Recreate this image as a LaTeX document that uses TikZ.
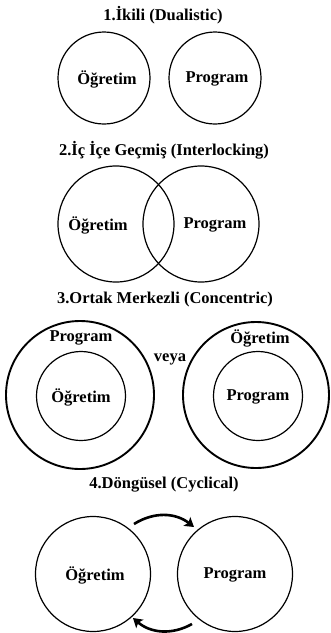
\documentclass[tikz,border=0pt]{standalone}
\usepackage{fontspec}
\setmainfont{Liberation Serif}
\usepackage{tikz}
\usetikzlibrary{arrows.meta}

\begin{document}
\begin{tikzpicture}[x=1pt, y=-1pt,
    lbl/.style={font=\bfseries\fontsize{16.5}{19}\selectfont, inner sep=0pt},
    ttl/.style={font=\bfseries\fontsize{16.5}{19}\selectfont, inner sep=0pt},
    ring/.style={draw, circle, line width=1.2pt, inner sep=0pt},
    thickring/.style={draw, circle, line width=1.9pt, inner sep=0pt},
    cyc/.style={line width=2.6pt, -{Stealth[length=9pt, width=11pt, inset=2pt]}}]
            \useasboundingbox (0,0) rectangle (330,633);

            % Titles
            \node[ttl] (t1) at (163, 15) {1.İkili (Dualistic)};
            \node[ttl] (t2) at (164, 150) {2.İç İçe Geçmiş (Interlocking)};
            \node[ttl] (t3) at (165, 300) {3.Ortak Merkezli (Concentric)};
            \node[ttl] (t4) at (164, 485) {4.Döngüsel (Cyclical)};

            % 1. Dualistic
            \node[ring, minimum size=92pt] (d1) at (104, 78) {};
            \node[ring, minimum size=92pt] (d2) at (215, 78) {};
            \node[lbl] (d1t) at (107, 79) {Öğretim};
            \node[lbl] (d2t) at (217, 79) {Program};

            % 2. Interlocking
            \node[ring, minimum size=116pt] (i1) at (116, 224) {};
            \node[ring, minimum size=116pt] (i2) at (201, 224) {};
            \node[lbl] (i1t) at (98, 225) {Öğretim};
            \node[lbl] (i2t) at (215, 225) {Program};

            % 3. Concentric
            \node[thickring, minimum size=148pt] (c1) at (80, 395) {};
            \node[ring, minimum size=89pt] (c1in) at (81, 396) {};
            \node[lbl] (c1t) at (81, 338) {Program};
            \node[lbl] (c1int) at (81, 397) {Öğretim};
            \node[lbl] (veya) at (170, 359) {veya};
            \node[thickring, minimum size=146pt] (c2) at (256, 395) {};
            \node[ring, minimum size=89pt] (c2in) at (258, 396) {};
            \node[lbl] (c2t) at (260, 338) {Öğretim};
            \node[lbl] (c2int) at (258, 397) {Program};

            % 4. Cyclical
            \node[ring, minimum size=115pt] (y1) at (93, 574) {};
            \node[ring, minimum size=115pt] (y2) at (235, 574) {};
            \node[lbl] (y1t) at (95, 575) {Öğretim};
            \node[lbl] (y2t) at (235, 575) {Program};

            % Arrows
            \coordinate (a1) at (134, 524);
            \coordinate (a2) at (194, 527);
            \coordinate (b1) at (192, 624);
            \coordinate (b2) at (133, 618);
            \draw[cyc] (a1) to[bend left=35] (a2);
            \draw[cyc] (b1) to[bend left=35] (b2);

        \end{tikzpicture}
\end{document}
